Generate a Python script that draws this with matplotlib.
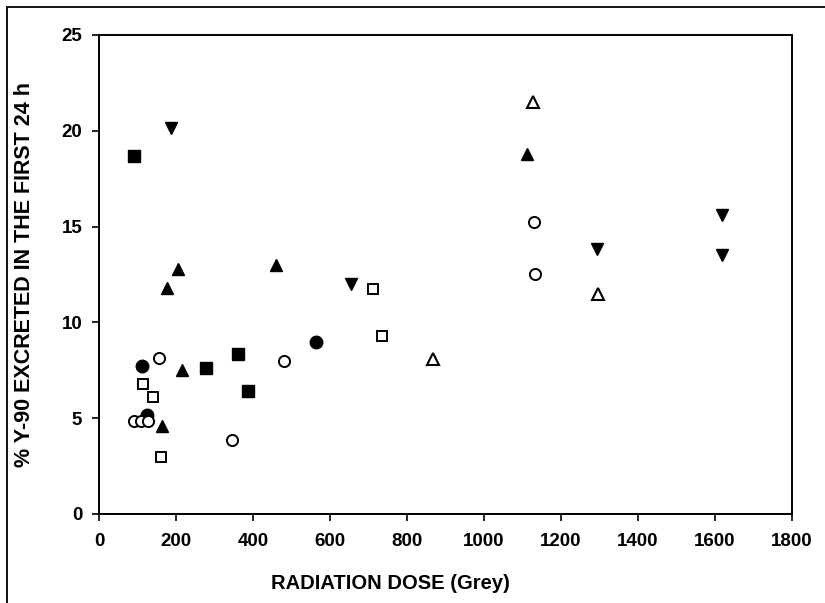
import matplotlib.pyplot as plt
from matplotlib.patches import Rectangle

plt.rcParams['font.family'] = ['Liberation Sans', 'DejaVu Sans']

# Data (dose in Grey, % Y-90 excreted in first 24 h)
filled_square_x = [91, 277, 362, 388]
filled_square_y = [18.7, 7.6, 8.35, 6.4]

open_square_x = [115, 139, 161, 712, 734]
open_square_y = [6.8, 6.1, 3.0, 11.75, 9.3]

filled_circle_x = [111, 124, 563]
filled_circle_y = [7.7, 5.15, 9.0]

open_circle_x = [91, 108, 127, 156, 346, 480, 1130, 1133]
open_circle_y = [4.87, 4.85, 4.85, 8.15, 3.86, 8.0, 15.25, 12.55]

filled_up_x = [176, 206, 216, 163, 461, 1112]
filled_up_y = [11.8, 12.8, 7.5, 4.6, 13.0, 18.8]

open_up_x = [868, 1128, 1296]
open_up_y = [8.1, 21.5, 11.5]

filled_down_x = [186, 654, 1294, 1617, 1617]
filled_down_y = [20.15, 12.0, 13.85, 15.6, 13.5]

fig = plt.figure(figsize=(8.25, 6.03), dpi=100)
ax = fig.add_axes([0.12, 0.1476, 0.84, 0.7944])

# outer frame of the original figure (runs off the right and bottom edges)
fig.patches.append(Rectangle((0.0085, -0.2), 1.5, 1.188, transform=fig.transFigure,
                             fill=False, edgecolor='black', linewidth=1.3))

ax.plot(filled_square_x, filled_square_y, 's', color='black', ms=8, mec='black')
ax.plot(open_square_x, open_square_y, 's', mfc='white', mec='black', mew=1.4, ms=7.5)
ax.plot(filled_circle_x, filled_circle_y, 'o', color='black', ms=9)
ax.plot(open_circle_x, open_circle_y, 'o', mfc='white', mec='black', mew=1.4, ms=8)
ax.plot(filled_up_x, filled_up_y, '^', color='black', ms=9)
ax.plot(open_up_x, open_up_y, '^', mfc='white', mec='black', mew=1.5, ms=8)
ax.plot(filled_down_x, filled_down_y, 'v', color='black', ms=9)

ax.set_xlim(0, 1800)
ax.set_ylim(0, 25)
ax.set_xticks(range(0, 1801, 200))
ax.set_yticks(range(0, 26, 5))

for s in ax.spines.values():
    s.set_linewidth(1.4)
ax.tick_params(direction='out', length=5, width=1.2, labelsize=13.5)
ax.tick_params(axis='x', pad=9)
ax.tick_params(axis='y', pad=7)
for lab in ax.get_xticklabels() + ax.get_yticklabels():
    lab.set_fontweight('bold')

ax.set_xlabel('RADIATION DOSE (Grey)', fontsize=14.5, fontweight='bold')
ax.xaxis.set_label_coords(0.42, -0.125)
ax.set_ylabel('% Y-90 EXCRETED IN THE FIRST 24 h', fontsize=15.5, fontweight='bold')
ax.yaxis.set_label_coords(-0.092, 0.5)

fig.savefig('out.png', dpi=100)
